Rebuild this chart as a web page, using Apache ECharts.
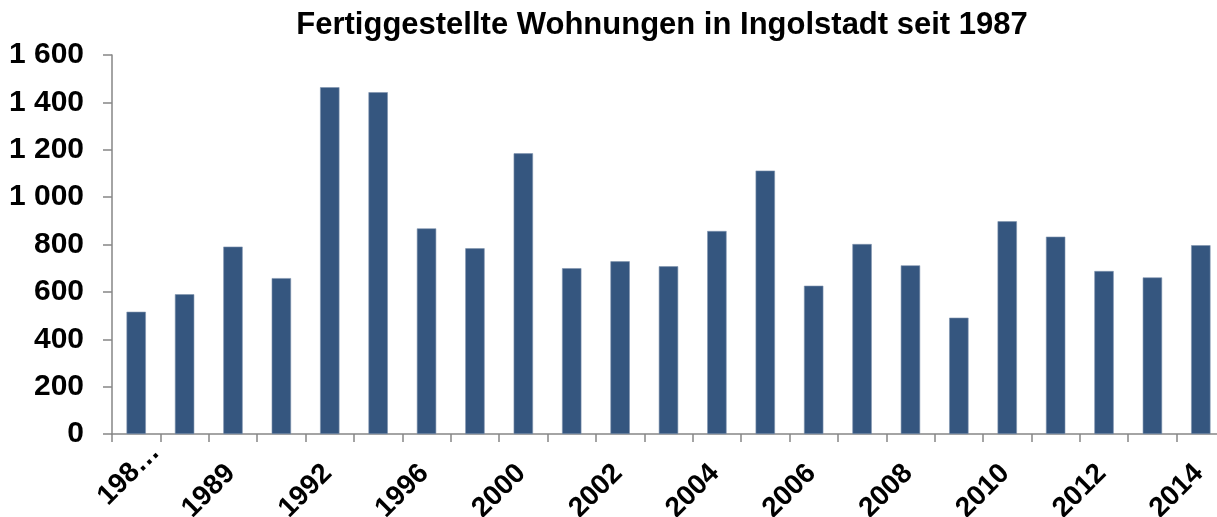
<!DOCTYPE html>
<html>
<head>
<meta charset="utf-8">
<script src="https://cdn.jsdelivr.net/npm/echarts@6/dist/echarts.min.js"></script>
<style>
html,body{margin:0;padding:0;background:#fff;}
#chart{width:1217px;height:517px;}
</style>
</head>
<body>
<div id="chart"></div>
<script>
const titleText = 'Fertiggestellte Wohnungen in Ingolstadt seit 1987';
const categories = ['1987/88','1988','1989','1990','1992','1994','1996','1998','2000','2001','2002','2003','2004','2005','2006','2007','2008','2009','2010','2011','2012','2013','2014'];
const completedDwellings = [516,590,791,658,1464,1443,868,784,1185,700,729,708,857,1112,626,802,712,491,898,833,688,661,797];
const yTicks = [0,200,400,600,800,1000,1200,1400,1600];

const fmtThousands = v => String(v).replace(/\B(?=(\d{3})+(?!\d))/g, ' ');
const axisGray = '#868686';
const fontFam = '"Liberation Sans", Arial, sans-serif';

// first (long) label is shown truncated, shifted like the original
const categoryItems = categories.map((c, i) => i === 0
  ? {value: c, textStyle: {padding: [0, -27, 0, 0]}}
  : c);

const chart = echarts.init(document.getElementById('chart'), null, {renderer:'canvas'});
chart.setOption({
  animation: false,
  title: {
    text: titleText,
    left: 657, textAlign: 'center',
    top: 5,
    textStyle: {fontFamily: fontFam, fontWeight: 'bold', fontSize: 31, color: '#000'}
  },
  grid: {left: 112, top: 55, width: 1113, height: 379, containLabel: false, outerBoundsMode: 'none'},
  xAxis: {
    type: 'category',
    data: categoryItems,
    boundaryGap: true,
    axisLine: {show: true, lineStyle: {color: axisGray, width: 1.5}},
    axisTick: {show: true, alignWithLabel: false, interval: 0, length: 8, lineStyle: {color: axisGray, width: 1.5}},
    axisLabel: {
      interval: 1, rotate: 45, margin: 33,
      padding: [0, 3, 0, 0],
      fontFamily: fontFam, fontWeight: 'bold', fontSize: 28, color: '#000',
      formatter: v => v.length > 4 ? v.slice(0,3) + '…' : v
    }
  },
  yAxis: {
    type: 'value',
    min: yTicks[0], max: yTicks[yTicks.length-1], interval: 200,
    splitLine: {show: false},
    axisLine: {show: true, lineStyle: {color: axisGray, width: 1.5}},
    axisTick: {show: true, length: 9, lineStyle: {color: axisGray, width: 1.5}},
    axisLabel: {
      margin: 28,
      fontFamily: fontFam, fontWeight: 'bold', fontSize: 30, color: '#000',
      formatter: fmtThousands
    }
  },
  series: [{
    type: 'bar',
    data: completedDwellings,
    barWidth: '40%',
    itemStyle: {color: '#35567F', borderColor: '#7F93AE', borderWidth: 0.6}
  }]
});
</script>
</body>
</html>
